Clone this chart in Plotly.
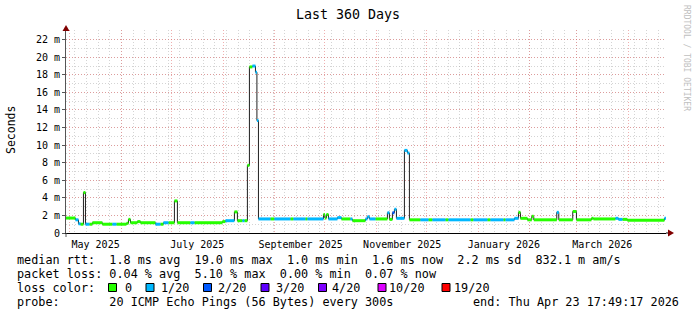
import plotly.graph_objects as go

# ---------------- data ----------------
start_time = "2025-04-28 17:49"
end_time = "2026-04-23 17:49"

# step segments of the median RTT (ms): start time, value, loss level index
seg_start = [
    "2025-04-28 17:49", "2025-05-04 10:00", "2025-05-06 05:00", "2025-05-07 10:00",
    "2025-05-09 05:00", "2025-05-10 10:00", "2025-05-12 19:00", "2025-05-14 14:00",
    "2025-05-20 14:00", "2025-05-26 14:00", "2025-05-29 00:00", "2025-06-04 00:00",
    "2025-06-05 05:00", "2025-06-06 10:00", "2025-06-10 14:00", "2025-06-12 10:00",
    "2025-06-21 10:00", "2025-06-24 10:00", "2025-06-26 05:00", "2025-06-29 05:00",
    "2025-07-02 19:00", "2025-07-04 14:00", "2025-07-12 10:00", "2025-07-14 19:00",
    "2025-07-31 14:00", "2025-08-02 10:00", "2025-08-07 19:00", "2025-08-09 14:00",
    "2025-08-12 14:00", "2025-08-13 19:00", "2025-08-15 14:00", "2025-08-16 19:00",
    "2025-08-18 14:00", "2025-08-20 10:00", "2025-08-21 07:00", "2025-08-22 05:00",
    "2025-08-29 10:00", "2025-08-31 19:00", "2025-09-10 10:00", "2025-09-12 05:00",
    "2025-09-19 10:00", "2025-09-20 14:00", "2025-09-30 05:00", "2025-10-01 02:00",
    "2025-10-02 00:00", "2025-10-03 05:00", "2025-10-08 14:00", "2025-10-11 00:00",
    "2025-10-16 10:00", "2025-10-17 14:00", "2025-10-25 10:00", "2025-10-26 14:00",
    "2025-10-27 19:00", "2025-10-31 10:00", "2025-11-07 14:00", "2025-11-08 19:00",
    "2025-11-10 14:00", "2025-11-11 19:00", "2025-11-13 00:00", "2025-11-17 19:00",
    "2025-11-19 14:00", "2025-11-20 19:00", "2025-11-27 10:00", "2025-12-02 05:00",
    "2025-12-04 14:00", "2025-12-12 10:00", "2025-12-14 05:00", "2025-12-27 10:00",
    "2025-12-29 05:00", "2026-01-06 14:00", "2026-01-08 10:00", "2026-01-16 05:00",
    "2026-01-17 10:00", "2026-01-22 19:00", "2026-01-25 05:00", "2026-01-26 10:00",
    "2026-01-30 14:00", "2026-02-02 05:00", "2026-02-03 10:00", "2026-02-17 05:00",
    "2026-02-18 10:00", "2026-02-26 19:00", "2026-03-01 00:00", "2026-03-10 00:00",
    "2026-03-11 05:00", "2026-03-24 10:00", "2026-03-26 05:00", "2026-03-28 14:00",
    "2026-03-31 14:00", "2026-04-22 19:00",
]
seg_ms = [
    1.70, 1.50, 1.05, 1.00, 4.60, 1.00, 1.00, 1.17,
    1.00, 1.00, 1.00, 1.10, 1.55, 1.17, 1.30, 1.17,
    1.00, 1.00, 1.17, 1.17, 3.65, 1.17, 1.17, 1.17,
    1.30, 1.40, 2.40, 1.40, 1.40, 1.40, 7.70, 18.90,
    19.00, 18.30, 12.80, 1.60, 1.60, 1.60, 1.60, 1.60,
    1.60, 1.60, 2.10, 1.70, 2.10, 1.60, 1.75, 1.60,
    1.60, 1.40, 1.60, 1.85, 1.60, 1.60, 2.30, 1.55,
    2.30, 2.70, 1.67, 9.40, 9.10, 1.50, 1.50, 1.50,
    1.50, 1.50, 1.50, 1.50, 1.50, 1.50, 1.50, 1.50,
    1.50, 1.67, 2.35, 1.67, 1.50, 1.90, 1.50, 2.35,
    1.50, 2.45, 1.50, 1.67, 1.60, 1.67, 1.55, 1.55,
    1.45, 1.67,
]
seg_loss = [
    0, 1, 1, 0, 0, 1, 0, 0,
    0, 1, 0, 0, 0, 0, 0, 0,
    1, 0, 1, 0, 0, 0, 1, 0,
    0, 1, 0, 0, 1, 0, 0, 0,
    1, 1, 1, 1, 0, 1, 0, 1,
    0, 1, 0, 0, 0, 1, 1, 0,
    1, 0, 1, 1, 1, 0, 1, 0,
    2, 1, 1, 1, 1, 0, 1, 0,
    1, 0, 1, 0, 1, 0, 1, 0,
    1, 1, 0, 0, 0, 0, 0, 1,
    0, 0, 0, 0, 0, 1, 1, 0,
    0, 1,
]

loss_labels = ["0", "1/20", "2/20", "3/20", "4/20", "10/20", "19/20"]
loss_colors = ["#26ff00", "#00b8ff", "#0059ff", "#5e00ff", "#7e00ff", "#dd00ff", "#ff0000"]

y_tick_vals = [0, 2, 4, 6, 8, 10, 12, 14, 16, 18, 20, 22]
y_tick_text = ["0"] + [f"{v} m" for v in y_tick_vals[1:]]

month_starts = ["2025-05-01", "2025-06-01", "2025-07-01", "2025-08-01", "2025-09-01",
                "2025-10-01", "2025-11-01", "2025-12-01", "2026-01-01", "2026-02-01",
                "2026-03-01", "2026-04-01"]
x_label_vals = ["2025-05-16 12:00", "2025-07-16 12:00", "2025-09-16 12:00",
                "2025-11-16 12:00", "2026-01-16 12:00", "2026-03-16 12:00"]
x_label_text = ["May 2025", "July 2025", "September 2025", "November 2025",
                "January 2026", "March 2026"]

legend_line1 = "median rtt:  1.8 ms avg  19.0 ms max  1.0 ms min  1.6 ms now  2.2 ms sd  832.1 m am/s"
legend_line2 = "packet loss: 0.04 % avg  5.10 % max  0.00 % min  0.07 % now"
legend_line4 = "probe:       20 ICMP Echo Pings (56 Bytes) every 300s"
legend_end = "end: Thu Apr 23 17:49:17 2026"

# ---------------- layout helpers ----------------
W, H = 697, 315
PX0, PX1, PY0, PY1 = 66, 666, 30, 233
def px(x):
    return (x - PX0) / (PX1 - PX0)
def py(y):
    return (PY1 - y) / (PY1 - PY0)

FONT = "DejaVu Sans Mono"
RED_GRID = "rgba(225,110,110,0.55)"
GRAY_GRID = "rgba(160,160,160,0.45)"
DASH = "1px,2px"

fig = go.Figure()

# median black step line
fig.add_trace(go.Scatter(
    x=seg_start + [end_time], y=seg_ms + [seg_ms[-1]],
    mode="lines", line=dict(color="#202020", width=1, shape="hv"),
    hoverinfo="skip", showlegend=False, xaxis="x", yaxis="y"))

# loss colored bands
ends = seg_start[1:] + [end_time]
for li, col in enumerate(loss_colors):
    xs, ys = [], []
    for s, e, v, l in zip(seg_start, ends, seg_ms, seg_loss):
        if l == li:
            xs += [s, e, None]
            ys += [v, v, None]
    if xs:
        fig.add_trace(go.Scatter(
            x=xs, y=ys, mode="lines", line=dict(color=col, width=3),
            hoverinfo="skip", showlegend=False, xaxis="x2", yaxis="y"))

xr = [start_time, end_time]
fig.update_layout(
    width=W, height=H,
    margin=dict(l=PX0, r=W - PX1, t=PY0, b=H - PY1),
    paper_bgcolor="white", plot_bgcolor="white",
    font=dict(family=FONT, size=10, color="#000"),
    showlegend=False,
    xaxis=dict(
        type="date", range=xr, tickmode="array", tickvals=month_starts,
        ticktext=[""] * len(month_starts),
        showgrid=True, gridcolor=RED_GRID, griddash=DASH, gridwidth=1,
        minor=dict(tickmode="linear", tick0="2025-05-04", dtick=7 * 86400000,
                   showgrid=True, gridcolor=GRAY_GRID, griddash=DASH, ticks=""),
        showline=True, linecolor="#000", linewidth=1, ticks="", zeroline=False,
    ),
    xaxis2=dict(
        type="date", range=xr, overlaying="x", anchor="y", side="bottom",
        tickmode="array", tickvals=x_label_vals, ticktext=x_label_text,
        tickfont=dict(family=FONT, size=10, color="#000"),
        showgrid=False, showline=False, ticks="outside", ticklen=2,
        tickcolor="rgba(0,0,0,0)", zeroline=False,
    ),
    yaxis=dict(
        range=[0, 23.1], tickmode="array", tickvals=y_tick_vals, ticktext=y_tick_text,
        tickfont=dict(family=FONT, size=10, color="#000"),
        showgrid=True, gridcolor=RED_GRID, griddash=DASH,
        minor=dict(dtick=1, showgrid=True, gridcolor=GRAY_GRID, griddash=DASH, ticks=""),
        ticks="outside", ticklen=3, tickcolor="#555",
        showline=True, linecolor="#555", linewidth=1, zeroline=False,
    ),
)

shapes = [
    # x axis extension and arrow
    dict(type="line", xref="paper", yref="paper", x0=1.0, x1=px(669), y0=0, y1=0,
         line=dict(color="#000", width=1)),
    dict(type="path", xref="paper", yref="paper",
         path=f"M {px(668)} {py(229.5)} L {px(674)} {py(233)} L {px(668)} {py(236.5)} Z",
         fillcolor="#800000", line=dict(color="#800000", width=0)),
    # y axis extension and arrow
    dict(type="line", xref="paper", yref="paper", x0=0, x1=0, y0=py(237), y1=0,
         line=dict(color="#555", width=1)),
    dict(type="line", xref="paper", yref="paper", x0=0, x1=0, y0=1.0, y1=py(28),
         line=dict(color="#555", width=1)),
    dict(type="path", xref="paper", yref="paper",
         path=f"M {px(62.5)} {py(31)} L {px(66)} {py(25)} L {px(69.5)} {py(31)} Z",
         fillcolor="#800000", line=dict(color="#800000", width=0)),
]

LF = 11.8
ann = [
    dict(text="Last 360 Days", x=px(348), y=py(14), xanchor="center", yanchor="middle",
         font=dict(family=FONT, size=13.3, color="#000")),
    dict(text="Seconds", x=px(11), y=py(130), xanchor="center", yanchor="middle",
         textangle=-90, font=dict(family=FONT, size=11.5, color="#000")),
    dict(text="RRDTOOL / TOBI OETIKER", x=px(687), y=py(58), xanchor="center",
         yanchor="middle", textangle=90, font=dict(family=FONT, size=8, color="#c0c0c0")),
    dict(text=legend_line1, x=px(15), y=py(260), xanchor="left", yanchor="middle",
         font=dict(family=FONT, size=LF, color="#000")),
    dict(text=legend_line2, x=px(15), y=py(273.5), xanchor="left", yanchor="middle",
         font=dict(family=FONT, size=LF, color="#000")),
    dict(text="loss color:", x=px(15), y=py(287.5), xanchor="left", yanchor="middle",
         font=dict(family=FONT, size=LF, color="#000")),
    dict(text=legend_line4, x=px(15), y=py(301.5), xanchor="left", yanchor="middle",
         font=dict(family=FONT, size=LF, color="#000")),
    dict(text=legend_end, x=px(681), y=py(301.5), xanchor="right", yanchor="middle",
         font=dict(family=FONT, size=LF, color="#000")),
]

box_x = [108.5, 146, 203.5, 261, 318.5, 378, 442]
lab_x = [123, 159, 216, 274, 330, 387, 452]
for bx, lx, lab, col in zip(box_x, lab_x, loss_labels, loss_colors):
    shapes.append(dict(type="rect", xref="paper", yref="paper",
                       x0=px(bx), x1=px(bx + 8), y0=py(283.5), y1=py(291.5),
                       fillcolor=col, line=dict(color="#000", width=1)))
    ann.append(dict(text=lab, x=px(lx), y=py(287.5), xanchor="left", yanchor="middle",
                    font=dict(family=FONT, size=LF, color="#000")))

for a in ann:
    a.update(xref="paper", yref="paper", showarrow=False)

fig.update_layout(shapes=shapes, annotations=ann)

fig.write_html("out.html")
